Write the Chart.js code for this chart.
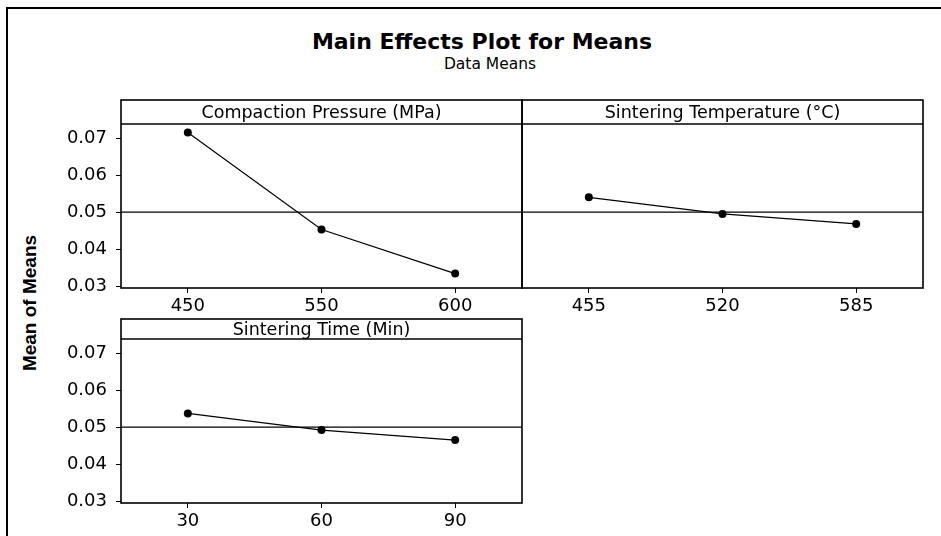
<!DOCTYPE html>
<html>
<head>
<meta charset="utf-8">
<title>Main Effects Plot for Means</title>
<script src="https://cdn.jsdelivr.net/npm/chart.js@4/dist/chart.umd.min.js"></script>
<style>
  html, body { margin: 0; padding: 0; background: #fff; }
  #page { position: relative; width: 941px; height: 536px; overflow: hidden; }
  #frame { position: absolute; left: 6px; top: 7px; width: 1000px; height: 600px;
           border-left: 2px solid #000; border-top: 2px solid #000; }
  .txt { position: absolute; color: #000; white-space: nowrap; }
  #title { left: 0; width: 964px; top: 29px; line-height: 26px; text-align: center;
           font: bold 22px "DejaVu Sans", sans-serif; }
  #subtitle { left: 0; width: 980px; top: 55px; line-height: 20px; text-align: center;
              font: 15.5px "DejaVu Sans", sans-serif; }
  #ytitle { left: 30px; top: 303px; transform: translate(-50%, -50%) rotate(-90deg);
            font: bold 19px "Liberation Sans", Arial, sans-serif; }
  .panel { position: absolute; }
</style>
</head>
<body>
<div id="page">
  <div id="frame"></div>
  <div id="title" class="txt">Main Effects Plot for Means</div>
  <div id="subtitle" class="txt">Data Means</div>
  <div id="ytitle" class="txt">Mean of Means</div>

  <div class="panel" style="left:60px; top:96px; width:470px; height:222px;"><canvas id="p1"></canvas></div>
  <div class="panel" style="left:514px; top:96px; width:420px; height:222px;"><canvas id="p2"></canvas></div>
  <div class="panel" style="left:60px; top:315px; width:470px; height:221px;"><canvas id="p3"></canvas></div>
</div>

<script>
// dati
const pressureLevels = ['450', '550', '600'];
const pressureMeans = [0.0715, 0.0453, 0.0334];

const tempLevels = ['455', '520', '585'];
const tempMeans = [0.0540, 0.0495, 0.0468];

const timeLevels = ['30', '60', '90'];
const timeMeans = [0.0537, 0.0492, 0.0465];

const grandMean = 0.0500;
const yTicks = [0.03, 0.04, 0.05, 0.06, 0.07];
const yMin = 0.0295;
const yMax = 0.0738;

Chart.defaults.font.family = "'DejaVu Sans', sans-serif";
Chart.defaults.font.size = 18;
Chart.defaults.color = '#000';

/* riquadro del pannello: intestazione, bordo e linea della media */
const panelFrame = {
  id: 'panelFrame',
  beforeDatasetsDraw(chart, args, opts) {
    const { ctx, chartArea: a } = chart;
    const y = chart.scales.y.getPixelForValue(opts.refValue);
    ctx.save();
    ctx.strokeStyle = '#000';
    ctx.lineWidth = 1.3;
    ctx.beginPath();
    ctx.moveTo(a.left, y);
    ctx.lineTo(a.right, y);
    ctx.stroke();
    ctx.restore();
  },
  afterDraw(chart, args, opts) {
    const { ctx, chartArea: a } = chart;
    const h = opts.headerHeight;
    ctx.save();
    ctx.strokeStyle = '#000';
    ctx.lineWidth = 1.6;
    ctx.strokeRect(a.left, a.top - h, a.right - a.left, a.bottom - a.top + h);
    ctx.beginPath();
    ctx.moveTo(a.left, a.top);
    ctx.lineTo(a.right, a.top);
    ctx.stroke();
    ctx.fillStyle = '#000';
    ctx.font = "17.5px 'DejaVu Sans', sans-serif";
    ctx.textAlign = 'center';
    ctx.textBaseline = 'middle';
    ctx.fillText(opts.title, (a.left + a.right) / 2, a.top - h / 2 + 1);
    ctx.restore();
  }
};

function makePanel(id, levels, means, title, headerHeight, padding, showY) {
  return new Chart(document.getElementById(id), {
    type: 'line',
    data: {
      labels: levels,
      datasets: [{
        data: means,
        borderColor: '#000',
        borderWidth: 1.2,
        backgroundColor: '#000',
        pointRadius: 4,
        pointBorderWidth: 0,
        tension: 0
      }]
    },
    options: {
      responsive: true,
      maintainAspectRatio: false,
      animation: false,
      layout: { padding: padding },
      plugins: {
        legend: { display: false },
        tooltip: { enabled: false },
        panelFrame: { title: title, headerHeight: headerHeight, refValue: grandMean }
      },
      scales: {
        x: {
          type: 'category',
          offset: true,
          border: { display: false },
          grid: { drawOnChartArea: false, drawTicks: true, tickLength: 5, color: '#000', offset: false },
          ticks: { padding: 3, maxRotation: 0 },
          afterFit(scale) { scale.height = 30; }
        },
        y: {
          display: showY,
          min: yMin,
          max: yMax,
          border: { display: false },
          grid: { drawOnChartArea: false, drawTicks: true, tickLength: 5, color: '#000' },
          ticks: {
            padding: 9,
            callback: v => v.toFixed(2)
          },
          afterBuildTicks(scale) { scale.ticks = yTicks.map(v => ({ value: v })); },
          afterFit(scale) { scale.width = showY ? 61 : 0; }
        }
      }
    },
    plugins: [panelFrame]
  });
}

makePanel('p1', pressureLevels, pressureMeans, 'Compaction Pressure (MPa)', 24,
  { top: 28, right: 8, bottom: 0, left: 0 }, true);
makePanel('p2', tempLevels, tempMeans, 'Sintering Temperature (°C)', 24,
  { top: 28, right: 11, bottom: 0, left: 8 }, false);
makePanel('p3', timeLevels, timeMeans, 'Sintering Time (Min)', 20,
  { top: 24, right: 8, bottom: 3, left: 0 }, true);
</script>
</body>
</html>
